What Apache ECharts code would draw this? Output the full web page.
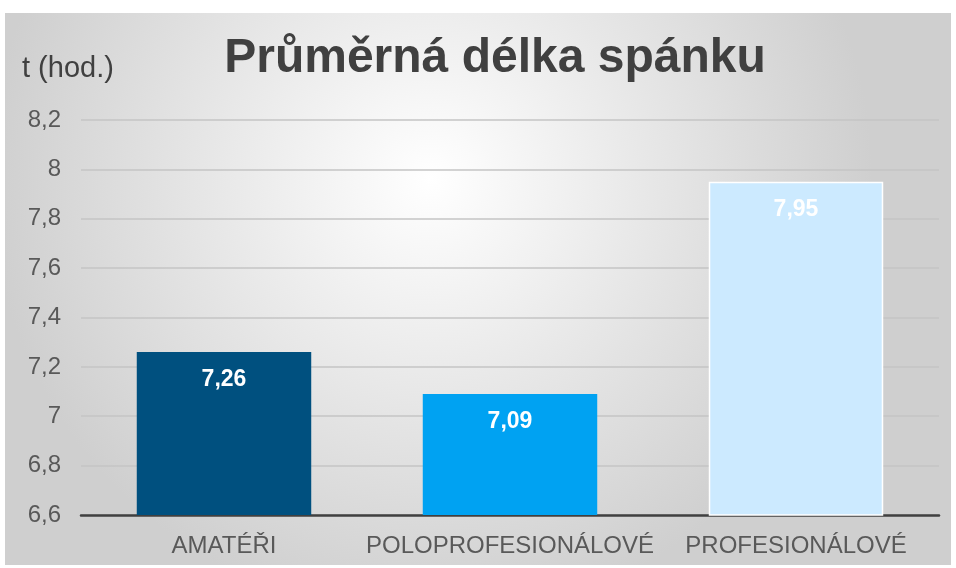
<!DOCTYPE html>
<html>
<head>
<meta charset="utf-8">
<script src="https://cdn.jsdelivr.net/npm/echarts@6/dist/echarts.min.js"></script>
<style>
  html, body { margin: 0; padding: 0; background: #ffffff; }
  #container {
    position: absolute;
    left: 5px;
    top: 13px;
    width: 946px;
    height: 552px;
  }
</style>
</head>
<body>
<div id="container"></div>
<script>
// data
var categories = ['AMATÉŘI', 'POLOPROFESIONÁLOVÉ', 'PROFESIONÁLOVÉ'];
var values = [7.26, 7.09, 7.95];
var barColors = ['#00507f', '#00a2f2', '#cceaff'];

var font = 'Liberation Sans, Arial, sans-serif';
var chart = echarts.init(document.getElementById('container'));

var option = {
  animation: false,
  backgroundColor: {
    type: 'radial',
    x: 0.45, y: 0.3, r: 0.8,
    colorStops: [
      { offset: 0, color: '#ffffff' },
      { offset: 1, color: '#cfcfcf' }
    ]
  },
  title: [{
    text: 'Průměrná délka spánku',
    left: 485,
    top: 17,
    textAlign: 'center',
    textStyle: { color: '#404040', fontSize: 48, fontWeight: 'bold', fontFamily: font }
  }, {
    // y axis name
    text: 't (hod.)',
    left: 17,
    top: 41,
    padding: 0,
    textStyle: { color: '#404040', fontSize: 29, fontWeight: 'normal', fontFamily: font }
  }],
  grid: {
    left: 76,
    right: 12,
    top: 107,
    bottom: 50
  },
  xAxis: {
    type: 'category',
    data: categories,
    axisLine: { show: true, lineStyle: { color: '#404040', width: 2.5 } },
    axisTick: { show: false },
    axisLabel: {
      interval: 0,
      color: '#595959',
      fontSize: 24,
      margin: 19,
      fontFamily: font
    }
  },
  yAxis: {
    type: 'value',
    min: 6.6,
    max: 8.2,
    interval: 0.2,
    axisLine: { show: false },
    axisTick: { show: false },
    axisLabel: {
      color: '#595959',
      fontSize: 24,
      margin: 20,
      fontFamily: font,
      formatter: function (v) {
        return (Math.round(v * 10) / 10).toString().replace('.', ',');
      }
    },
    splitLine: { lineStyle: { color: '#c4c4c4', width: 1.5 } }
  },
  series: [{
    type: 'bar',
    barWidth: '61%',
    data: values.map(function (v, i) {
      return {
        value: v,
        itemStyle: {
          color: barColors[i],
          borderColor: i === 2 ? '#ffffff' : barColors[i],
          borderWidth: i === 2 ? 1.5 : 0
        }
      };
    }),
    label: {
      show: true,
      position: 'insideTop',
      distance: 16,
      color: '#ffffff',
      fontSize: 23,
      fontWeight: 'bold',
      fontFamily: font,
      formatter: function (p) {
        return p.value.toFixed(2).replace('.', ',');
      }
    }
  }]
};

chart.setOption(option);
</script>
</body>
</html>
